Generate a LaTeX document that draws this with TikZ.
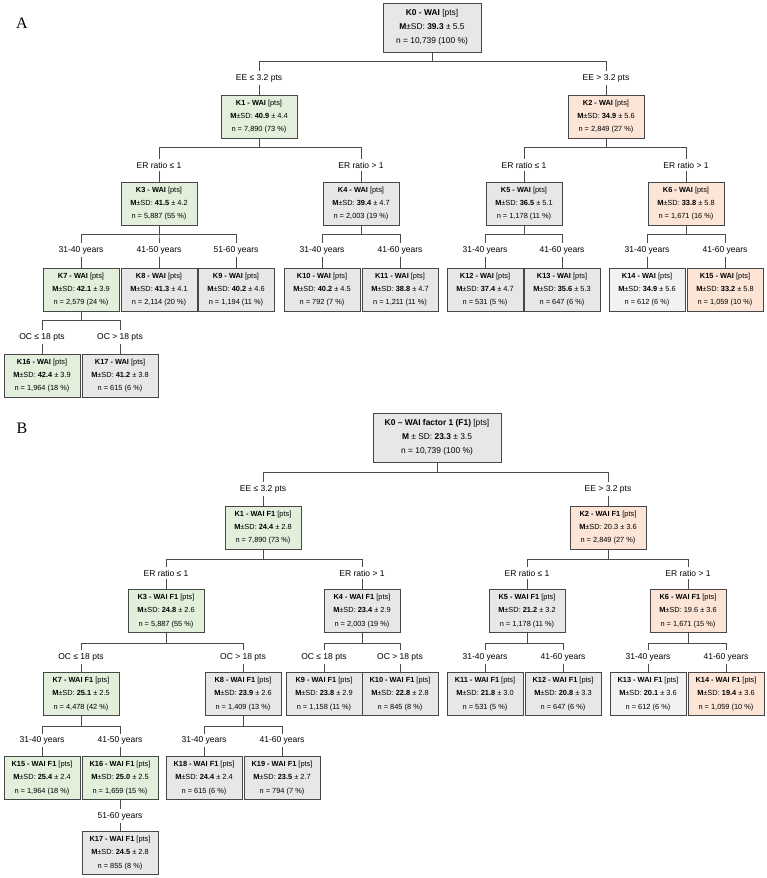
\documentclass[tikz,border=0pt]{standalone}
\usepackage{fontspec}
\setmainfont{Liberation Sans}
\newfontfamily\panelfont{Liberation Serif}
\definecolor{grn}{HTML}{E2EFDA}
\definecolor{sal}{HTML}{FCE4D6}
\definecolor{gry}{HTML}{E7E7E7}
\definecolor{gryl}{HTML}{F2F2F2}
\newcommand{\kinfo}[4]{\textbf{#1} [pts]\\\textbf{M}±SD: \textbf{#2} ± #3\\n = #4}

\begin{document}
\begin{tikzpicture}[x=1pt, y=-1pt,
        box/.style={draw=black!72, line width=0.9pt, minimum width=76pt, minimum height=43pt,
          inner sep=0pt, align=center, font=\fontsize{7.4}{13.3}\selectfont},
        gbox/.style={box, fill=grn},
        sbox/.style={box, fill=sal},
        nbox/.style={box, fill=gry},
        lbox/.style={box, fill=gryl},
        root/.style={nbox, minimum height=49pt, font=\fontsize{8.4}{14.3}\selectfont},
        lbl/.style={font=\fontsize{8.5}{10}\selectfont, inner sep=2.5pt},
        edge/.style={draw=black!70, line width=0.85pt}]
      \useasboundingbox (0,0) rectangle (767,878);

      % panel A
      \node[font=\panelfont\fontsize{16}{16}\selectfont] (pA) at (22,23) {A};
      \node[root, minimum width=98pt] (a0) at (432,27.5)
        {\textbf{K0 - WAI} [pts]\\\textbf{M}±SD: \textbf{39.3} ± 5.5\\n = 10,739 (100 \%)};

      \node[lbl] (la1) at (259,78) {EE ≤ 3.2 pts};
      \node[lbl] (la2) at (606,78) {EE > 3.2 pts};
      \node[gbox] (a1) at (259,116.5) {\kinfo{K1 - WAI}{40.9}{4.4}{7,890 (73 \%)}};
      \node[sbox] (a2) at (606,116.5) {\kinfo{K2 - WAI}{34.9}{5.6}{2,849 (27 \%)}};

      \node[lbl] (la3) at (159,165) {ER ratio ≤ 1};
      \node[lbl] (la4) at (361,165) {ER ratio > 1};
      \node[lbl] (la5) at (524,165) {ER ratio ≤ 1};
      \node[lbl] (la6) at (686,165) {ER ratio > 1};
      \node[gbox] (a3) at (159,203.5) {\kinfo{K3 - WAI}{41.5}{4.2}{5,887 (55 \%)}};
      \node[nbox] (a4) at (361,203.5) {\kinfo{K4 - WAI}{39.4}{4.7}{2,003 (19 \%)}};
      \node[nbox] (a5) at (524,203.5) {\kinfo{K5 - WAI}{36.5}{5.1}{1,178 (11 \%)}};
      \node[sbox] (a6) at (686,203.5) {\kinfo{K6 - WAI}{33.8}{5.8}{1,671 (16 \%)}};

      \node[lbl] (la7) at (81,250) {31-40 years};
      \node[lbl] (la8) at (159,250) {41-50 years};
      \node[lbl] (la9) at (236,250) {51-60 years};
      \node[lbl] (la10) at (322,250) {31-40 years};
      \node[lbl] (la11) at (400,250) {41-60 years};
      \node[lbl] (la12) at (485,250) {31-40 years};
      \node[lbl] (la13) at (562,250) {41-60 years};
      \node[lbl] (la14) at (647,250) {31-40 years};
      \node[lbl] (la15) at (725,250) {41-60 years};
      \node[gbox] (a7) at (81,289.5) {\kinfo{K7 - WAI}{42.1}{3.9}{2,579 (24 \%)}};
      \node[nbox] (a8) at (159,289.5) {\kinfo{K8 - WAI}{41.3}{4.1}{2,114 (20 \%)}};
      \node[nbox] (a9) at (236,289.5) {\kinfo{K9 - WAI}{40.2}{4.6}{1,194 (11 \%)}};
      \node[nbox] (a10) at (322,289.5) {\kinfo{K10 - WAI}{40.2}{4.5}{792 (7 \%)}};
      \node[nbox] (a11) at (400,289.5) {\kinfo{K11 - WAI}{38.8}{4.7}{1,211 (11 \%)}};
      \node[nbox] (a12) at (485,289.5) {\kinfo{K12 - WAI}{37.4}{4.7}{531 (5 \%)}};
      \node[nbox] (a13) at (562,289.5) {\kinfo{K13 - WAI}{35.6}{5.3}{647 (6 \%)}};
      \node[lbox] (a14) at (647,289.5) {\kinfo{K14 - WAI}{34.9}{5.6}{612 (6 \%)}};
      \node[sbox] (a15) at (725,289.5) {\kinfo{K15 - WAI}{33.2}{5.8}{1,059 (10 \%)}};

      \node[lbl] (la16) at (42,337) {OC ≤ 18 pts};
      \node[lbl] (la17) at (120,337) {OC > 18 pts};
      \node[gbox] (a16) at (42,375.5) {\kinfo{K16 - WAI}{42.4}{3.9}{1,964 (18 \%)}};
      \node[nbox] (a17) at (120,375.5) {\kinfo{K17 - WAI}{41.2}{3.8}{615 (6 \%)}};

      \foreach \p/\c in {a0/a1, a0/a2, a1/a3, a1/a4, a2/a5, a2/a6, a3/a7, a3/a8, a3/a9,
          a4/a10, a4/a11, a5/a12, a5/a13, a6/a14, a6/a15, a7/a16, a7/a17}
        \draw[edge] (\p.south) -- ++(0,9) -| (l\c.north) (l\c) -- (\c);

      % panel B
      \node[font=\panelfont\fontsize{16}{16}\selectfont] (pB) at (22,428) {B};
      \node[root, minimum width=128pt] (b0) at (437,437.5)
        {\textbf{K0 – WAI factor 1 (F1)} [pts]\\\textbf{M} ± SD: \textbf{23.3} ± 3.5\\n = 10,739 (100 \%)};

      \node[lbl] (lb1) at (263,489) {EE ≤ 3.2 pts};
      \node[lbl] (lb2) at (608,489) {EE > 3.2 pts};
      \node[gbox] (b1) at (263,527.5) {\kinfo{K1 - WAI F1}{24.4}{2.8}{7,890 (73 \%)}};
      \node[sbox] (b2) at (608,527.5) {\kinfo{K2 - WAI F1}{\mdseries 20.3}{3.6}{2,849 (27 \%)}};

      \node[lbl] (lb3) at (166,573) {ER ratio ≤ 1};
      \node[lbl] (lb4) at (362,573) {ER ratio > 1};
      \node[lbl] (lb5) at (527,573) {ER ratio ≤ 1};
      \node[lbl] (lb6) at (688,573) {ER ratio > 1};
      \node[gbox] (b3) at (166,611) {\kinfo{K3 - WAI F1}{24.8}{2.6}{5,887 (55 \%)}};
      \node[nbox] (b4) at (362,611) {\kinfo{K4 - WAI F1}{23.4}{2.9}{2,003 (19 \%)}};
      \node[nbox] (b5) at (527,611) {\kinfo{K5 - WAI F1}{21.2}{3.2}{1,178 (11 \%)}};
      \node[sbox] (b6) at (688,611) {\kinfo{K6 - WAI F1}{\mdseries 19.6}{3.6}{1,671 (15 \%)}};

      \node[lbl] (lb7) at (81,657) {OC ≤ 18 pts};
      \node[lbl] (lb8) at (243,657) {OC > 18 pts};
      \node[lbl] (lb9) at (324,657) {OC ≤ 18 pts};
      \node[lbl] (lb10) at (400,657) {OC > 18 pts};
      \node[lbl] (lb11) at (485,657) {31-40 years};
      \node[lbl] (lb12) at (563,657) {41-60 years};
      \node[lbl] (lb13) at (648,657) {31-40 years};
      \node[lbl] (lb14) at (726,657) {41-60 years};
      \node[gbox] (b7) at (81,694) {\kinfo{K7 - WAI F1}{25.1}{2.5}{4,478 (42 \%)}};
      \node[nbox] (b8) at (243,694) {\kinfo{K8 - WAI F1}{23.9}{2.6}{1,409 (13 \%)}};
      \node[nbox] (b9) at (324,694) {\kinfo{K9 - WAI F1}{23.8}{2.9}{1,158 (11 \%)}};
      \node[nbox] (b10) at (400,694) {\kinfo{K10 - WAI F1}{22.8}{2.8}{845 (8 \%)}};
      \node[nbox] (b11) at (485,694) {\kinfo{K11 - WAI F1}{21.8}{3.0}{531 (5 \%)}};
      \node[nbox] (b12) at (563,694) {\kinfo{K12 - WAI F1}{20.8}{3.3}{647 (6 \%)}};
      \node[lbox] (b13) at (648,694) {\kinfo{K13 - WAI F1}{20.1}{3.6}{612 (6 \%)}};
      \node[sbox] (b14) at (726,694) {\kinfo{K14 - WAI F1}{19.4}{3.6}{1,059 (10 \%)}};

      \node[lbl] (lb15) at (42,740.5) {31-40 years};
      \node[lbl] (lb16) at (120,740.5) {41-50 years};
      \node[lbl] (lb18) at (204,740.5) {31-40 years};
      \node[lbl] (lb19) at (282,740.5) {41-60 years};
      \node[gbox] (b15) at (42,778) {\kinfo{K15 - WAI F1}{25.4}{2.4}{1,964 (18 \%)}};
      \node[gbox] (b16) at (120,778) {\kinfo{K16 - WAI F1}{25.0}{2.5}{1,659 (15 \%)}};
      \node[nbox] (b18) at (204,778) {\kinfo{K18 - WAI F1}{24.4}{2.4}{615 (6 \%)}};
      \node[nbox] (b19) at (282,778) {\kinfo{K19 - WAI F1}{23.5}{2.7}{794 (7 \%)}};

      \node[lbl] (lb17) at (120,816) {51-60 years};
      \node[nbox] (b17) at (120,853) {\kinfo{K17 - WAI F1}{24.5}{2.8}{855 (8 \%)}};

      \foreach \p/\c in {b0/b1, b0/b2, b1/b3, b1/b4, b2/b5, b2/b6, b3/b7, b3/b8, b4/b9,
          b4/b10, b5/b11, b5/b12, b6/b13, b6/b14, b7/b15, b7/b16, b8/b18, b8/b19}
        \draw[edge] (\p.south) -- ++(0,10) -| (l\c.north) (l\c) -- (\c);
      \draw[edge] (b16) -- (lb17) (lb17) -- (b17);
    \end{tikzpicture}
\end{document}
